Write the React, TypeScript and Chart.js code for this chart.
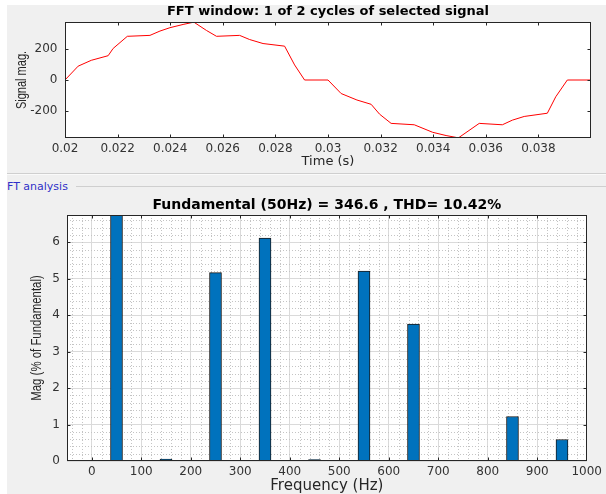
import React, { useEffect, useRef } from 'react';
import { Chart, registerables } from 'chart.js';

Chart.register(...registerables);

// ---- Top plot: time signal (one cycle window) ----
const TIME_S = [
  0.02, 0.0205, 0.021, 0.02164, 0.02183, 0.02237, 0.02323, 0.02361, 0.02399, 0.02449,
  0.0249, 0.02538, 0.02576, 0.02664, 0.02702, 0.02753, 0.02835, 0.02873, 0.02911, 0.03,
  0.0305, 0.0311, 0.03164, 0.03196, 0.0324, 0.03328, 0.03398, 0.03449, 0.03496, 0.03575,
  0.03663, 0.03701, 0.03746, 0.03834, 0.03866, 0.0391, 0.04,
];
const SIGNAL_MAG = [
  0, 90, 128, 158, 205, 284, 290, 318, 340, 361,
  376, 322, 284, 290, 263, 237, 220, 98, 0, 0,
  -88, -130, -158, -222, -282, -291, -340, -361, -376, -282,
  -291, -261, -237, -216, -109, 0, 0,
];
const TIME_TICKS = [0.02, 0.022, 0.024, 0.026, 0.028, 0.03, 0.032, 0.034, 0.036, 0.038];
const SIGNAL_TICKS = [-200, 0, 200];

// ---- Bottom plot: FFT harmonics ----
const FREQ_HZ = [50, 150, 250, 350, 450, 550, 650, 750, 850, 950];
const MAG_PCT = [100, 0.05, 5.17, 6.12, 0.04, 5.21, 3.76, 0.02, 1.22, 0.59];
const FREQ_TICKS = [0, 100, 200, 300, 400, 500, 600, 700, 800, 900, 1000];
const MAG_TICKS = [0, 1, 2, 3, 4, 5, 6];
const FREQ_MINOR_STEP = 20;
const MAG_MINOR_STEP = 0.2;

const AXIS_COLOR = '#262626';
const TICK_FONT = { family: 'DejaVu Sans', size: 12 };

function matlabAxesPlugin(yTitle: { text: string; x: number; size: number }, minorX?: number, minorY?: number) {
  return {
    id: 'matlabAxes',
    beforeDraw(chart: any) {
      const { ctx, chartArea: a } = chart;
      ctx.save();
      ctx.fillStyle = '#ffffff';
      ctx.fillRect(a.left, a.top, a.right - a.left, a.bottom - a.top);
      ctx.restore();
    },
    beforeDatasetsDraw(chart: any) {
      if (!minorX && !minorY) return;
      const { ctx, chartArea: a } = chart;
      const xs = chart.scales.x;
      const ys = chart.scales.y;
      ctx.save();
      ctx.strokeStyle = '#C4C4C4';
      ctx.lineWidth = 1;
      ctx.setLineDash([1, 2]);
      if (minorX) {
        const start = Math.ceil(xs.min / minorX) * minorX;
        for (let v = start; v <= xs.max + 1e-9; v += minorX) {
          const r = Math.round(v * 1000) / 1000;
          if (Math.abs(r / 100 - Math.round(r / 100)) < 1e-6) continue;
          const px = Math.round(xs.getPixelForValue(r)) + 0.5;
          ctx.beginPath();
          ctx.moveTo(px, a.top);
          ctx.lineTo(px, a.bottom);
          ctx.stroke();
        }
      }
      if (minorY) {
        const start = Math.ceil(ys.min / minorY) * minorY;
        for (let v = start; v <= ys.max + 1e-9; v += minorY) {
          const r = Math.round(v * 1000) / 1000;
          if (Math.abs(r - Math.round(r)) < 1e-6) continue;
          const py = Math.round(ys.getPixelForValue(r)) + 0.5;
          ctx.beginPath();
          ctx.moveTo(a.left, py);
          ctx.lineTo(a.right, py);
          ctx.stroke();
        }
      }
      ctx.restore();
    },
    afterDatasetsDraw(chart: any) {
      const { ctx, chartArea: a } = chart;
      const xs = chart.scales.x;
      const ys = chart.scales.y;
      const L = Math.round(a.left) + 0.5;
      const R = Math.round(a.right) - 0.5;
      const T = Math.round(a.top) + 0.5;
      const B = Math.round(a.bottom) - 0.5;
      const tl = 3;
      ctx.save();
      ctx.strokeStyle = AXIS_COLOR;
      ctx.lineWidth = 1;
      ctx.setLineDash([]);
      ctx.strokeRect(L, T, R - L, B - T);
      ctx.beginPath();
      xs.ticks.forEach((t: any) => {
        const px = Math.round(xs.getPixelForValue(t.value)) + 0.5;
        if (px <= L + 1 || px >= R - 1) return;
        ctx.moveTo(px, B);
        ctx.lineTo(px, B - tl);
        ctx.moveTo(px, T);
        ctx.lineTo(px, T + tl);
      });
      ys.ticks.forEach((t: any) => {
        const py = Math.round(ys.getPixelForValue(t.value)) + 0.5;
        if (py <= T + 1 || py >= B - 1) return;
        ctx.moveTo(L, py);
        ctx.lineTo(L + tl, py);
        ctx.moveTo(R, py);
        ctx.lineTo(R - tl, py);
      });
      ctx.stroke();
      ctx.restore();
    },
    afterDraw(chart: any) {
      // y-axis title in a condensed face (rotated, narrowed along the text direction)
      const { ctx, chartArea: a } = chart;
      ctx.save();
      ctx.translate(yTitle.x, (a.top + a.bottom) / 2);
      ctx.rotate(-Math.PI / 2);
      ctx.scale(0.76, 1);
      ctx.font = `${yTitle.size}px 'Liberation Sans', Arial, sans-serif`;
      ctx.fillStyle = AXIS_COLOR;
      ctx.textAlign = 'center';
      ctx.textBaseline = 'middle';
      ctx.fillText(yTitle.text, 0, 0);
      ctx.restore();
    },
  };
}

function TopChart() {
  const ref = useRef<HTMLCanvasElement>(null);
  useEffect(() => {
    if (!ref.current) return;
    const chart = new Chart(ref.current, {
      type: 'line',
      data: {
        datasets: [
          {
            data: TIME_S.map((t, i) => ({ x: t, y: SIGNAL_MAG[i] })),
            borderColor: '#FF0000',
            borderWidth: 1,
            pointRadius: 0,
            tension: 0,
            fill: false,
            clip: 0,
          } as any,
        ],
      },
      options: {
        responsive: false,
        animation: false,
        devicePixelRatio: 1,
        layout: { padding: { left: 0, right: 15, top: 0, bottom: 0 } },
        plugins: {
          legend: { display: false },
          tooltip: { enabled: false },
          title: {
            display: true,
            fullSize: false,
            text: 'FFT window: 1 of 2 cycles of selected signal',
            color: '#000',
            font: { family: 'DejaVu Sans', size: 13, weight: 'bold' },
            padding: { top: 4, bottom: 2.4 },
          } as any,
        },
        scales: {
          x: {
            type: 'linear',
            min: 0.02,
            max: 0.04,
            offset: false,
            afterBuildTicks: (s: any) => {
              s.ticks = TIME_TICKS.map((v) => ({ value: v }));
            },
            afterFit: (s: any) => {
              s.height = 34;
            },
            grid: { display: false, drawTicks: false },
            border: { display: false },
            ticks: {
              padding: 4,
              color: '#333',
              font: TICK_FONT,
              autoSkip: false,
              maxRotation: 0,
              minRotation: 0,
              callback: (v: any) => String(Number(Number(v).toFixed(3))),
            },
            title: {
              display: true,
              text: 'Time (s)',
              color: AXIS_COLOR,
              font: { family: 'DejaVu Sans', size: 13 },
              padding: { top: 0, bottom: 2.2 },
            },
          },
          y: {
            type: 'linear',
            min: -377,
            max: 377,
            afterBuildTicks: (s: any) => {
              s.ticks = SIGNAL_TICKS.map((v) => ({ value: v }));
            },
            afterFit: (s: any) => {
              s.width = 65;
            },
            grid: { display: false, drawTicks: false },
            border: { display: false },
            ticks: {
              padding: 7.5,
              color: '#333',
              font: TICK_FONT,
              callback: (v: any) => String(v),
            },
            title: { display: false },
          },
        },
      } as any,
      plugins: [matlabAxesPlugin({ text: 'Signal mag.', x: 21.5, size: 14.5 })],
    });
    return () => chart.destroy();
  }, []);
  return (
    <canvas
      ref={ref}
      width={606}
      height={172}
      style={{ position: 'absolute', left: 0, top: 0, width: 606, height: 172 }}
    />
  );
}

function BottomChart() {
  const ref = useRef<HTMLCanvasElement>(null);
  useEffect(() => {
    if (!ref.current) return;
    const chart = new Chart(ref.current, {
      type: 'bar',
      data: {
        datasets: [
          {
            data: FREQ_HZ.map((f, i) => ({ x: f, y: MAG_PCT[i] })),
            backgroundColor: '#0072BD',
            borderColor: '#1A1A1A',
            borderWidth: 1,
            barThickness: 12,
            clip: 0,
          } as any,
        ],
      },
      options: {
        responsive: false,
        animation: false,
        devicePixelRatio: 1,
        layout: { padding: { left: 0, right: 15, top: 0, bottom: 0 } },
        plugins: {
          legend: { display: false },
          tooltip: { enabled: false },
          title: {
            display: true,
            fullSize: false,
            text: 'Fundamental (50Hz) = 346.6 , THD= 10.42%',
            color: '#000',
            font: { family: 'DejaVu Sans', size: 14, weight: 'bold' },
            padding: { top: 7.1, bottom: 1.1 },
          } as any,
        },
        scales: {
          x: {
            type: 'linear',
            min: -50,
            max: 1000,
            offset: false,
            afterBuildTicks: (s: any) => {
              s.ticks = FREQ_TICKS.map((v) => ({ value: v }));
            },
            afterFit: (s: any) => {
              s.height = 33;
            },
            grid: { display: true, color: '#DADADA', drawTicks: false, offset: false },
            border: { display: false },
            ticks: {
              padding: 4,
              color: '#333',
              font: TICK_FONT,
              autoSkip: false,
              maxRotation: 0,
              minRotation: 0,
              callback: (v: any) => String(v),
            },
            title: {
              display: true,
              text: 'Frequency (Hz)',
              color: AXIS_COLOR,
              font: { family: 'DejaVu Sans', size: 15, lineHeight: 1 },
              padding: { top: 0, bottom: 0 },
            },
          },
          y: {
            type: 'linear',
            min: 0,
            max: 6.75,
            afterBuildTicks: (s: any) => {
              s.ticks = MAG_TICKS.map((v) => ({ value: v }));
            },
            afterFit: (s: any) => {
              s.width = 67;
            },
            grid: { display: true, color: '#DADADA', drawTicks: false },
            border: { display: false },
            ticks: {
              padding: 7,
              color: '#333',
              font: TICK_FONT,
              callback: (v: any) => String(v),
            },
            title: { display: false },
          },
        },
      } as any,
      plugins: [
        matlabAxesPlugin({ text: 'Mag (% of Fundamental)', x: 36.7, size: 15 }, FREQ_MINOR_STEP, MAG_MINOR_STEP),
      ],
    });
    return () => chart.destroy();
  }, []);
  return (
    <canvas
      ref={ref}
      width={606}
      height={304}
      style={{ position: 'absolute', left: 0, top: 190, width: 606, height: 304 }}
    />
  );
}

export default function App() {
  return (
    <div
      style={{
        position: 'fixed',
        left: 0,
        top: 0,
        width: 606,
        height: 494,
        background: '#ffffff',
        overflow: 'hidden',
      }}
    >
      <div
        style={{
          position: 'absolute',
          left: 7,
          top: 5,
          right: 0,
          bottom: 0,
          background: '#F0F0F0',
        }}
      />
      <div
        style={{
          position: 'absolute',
          left: 7,
          top: 173,
          right: 0,
          height: 1,
          background: '#CFCFCF',
        }}
      />
      <div
        style={{
          position: 'absolute',
          left: 7,
          top: 174,
          right: 0,
          height: 1,
          background: '#FAFAFA',
        }}
      />
      <div
        style={{
          position: 'absolute',
          left: 7,
          top: 180,
          height: 13,
          lineHeight: '13px',
          fontSize: 11,
          fontFamily: 'DejaVu Sans',
          color: '#3030C8',
          whiteSpace: 'nowrap',
        }}
      >
        FT analysis
      </div>
      <div
        style={{
          position: 'absolute',
          left: 76,
          top: 186,
          right: 0,
          height: 1,
          background: '#CFCFCF',
        }}
      />
      <TopChart />
      <BottomChart />
    </div>
  );
}
